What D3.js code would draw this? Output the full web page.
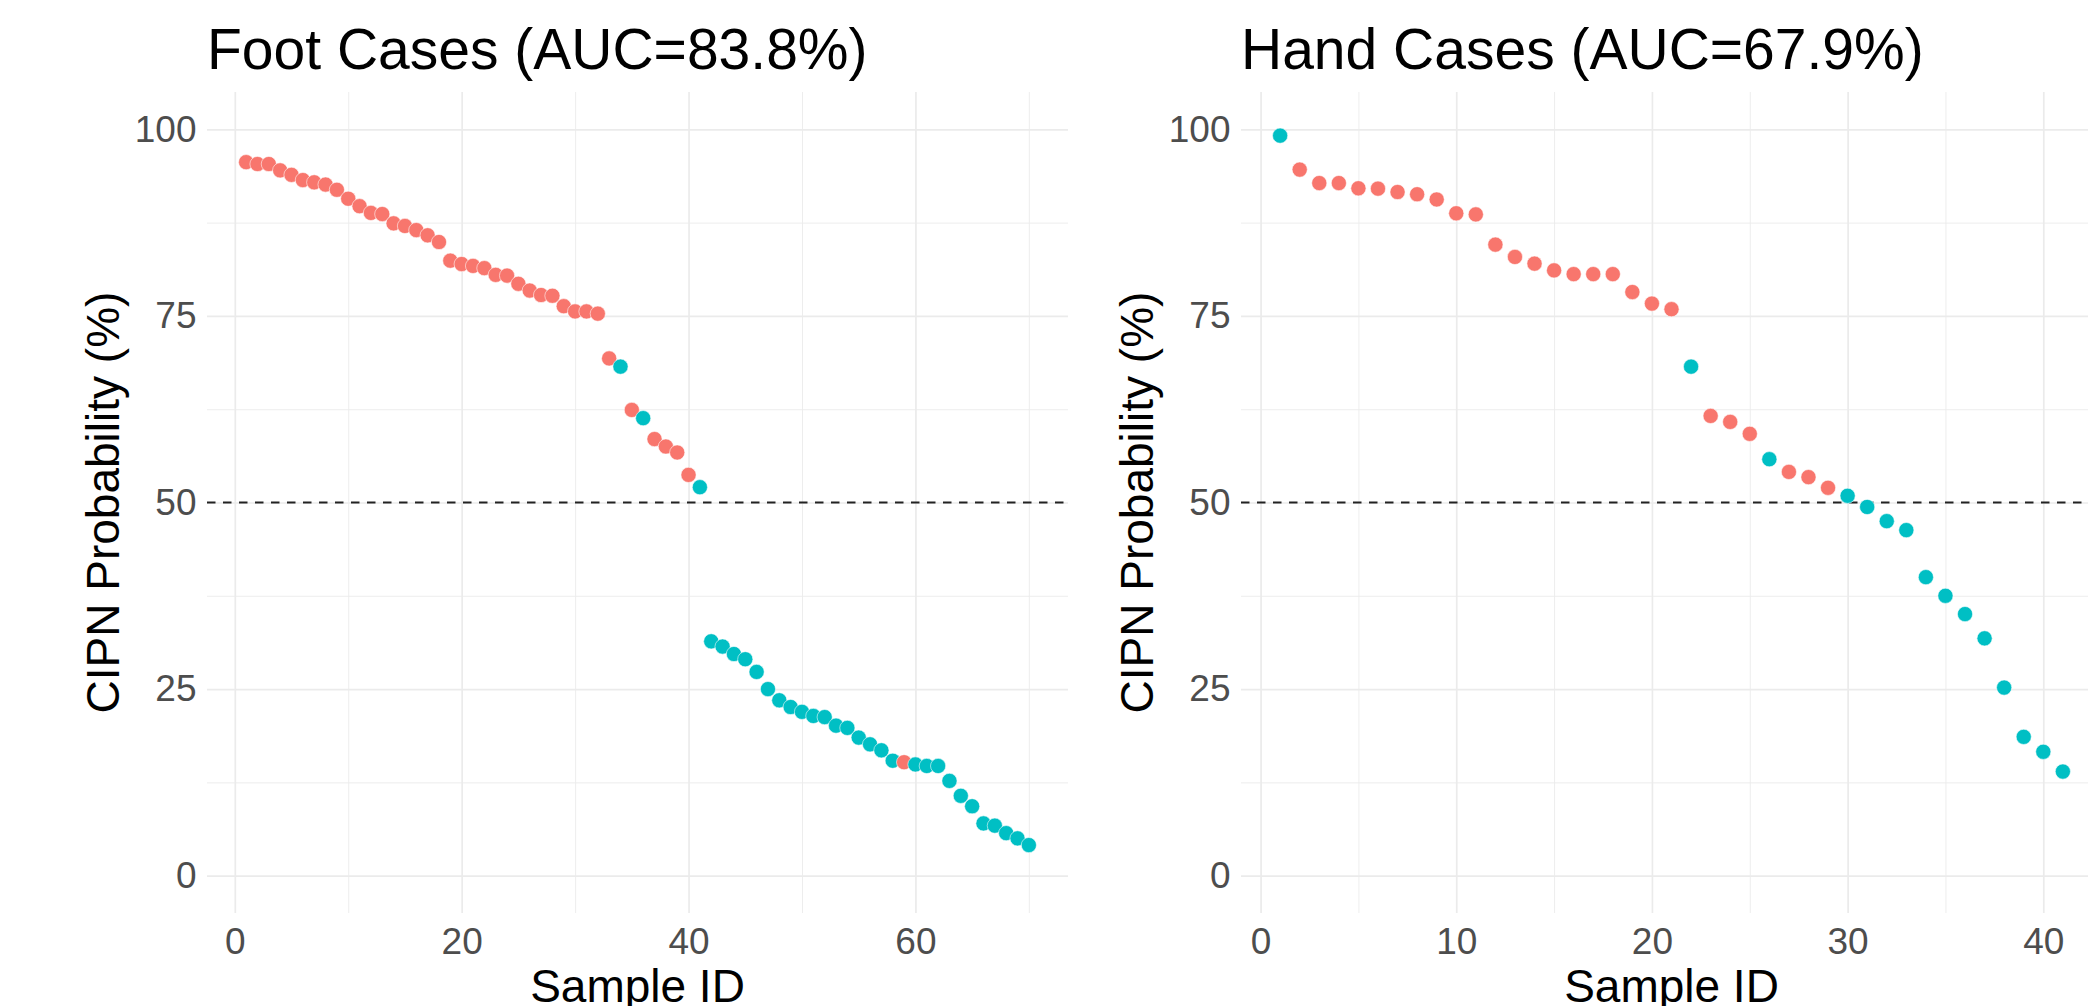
<!DOCTYPE html>
<html>
<head>
<meta charset="utf-8">
<title>CIPN probability by sample</title>
<script src="https://cdn.jsdelivr.net/npm/d3@7"></script>
<style>
  html, body { margin: 0; padding: 0; background: #fff; }
  svg { display: block; font-family: "Liberation Sans", Arial, Helvetica, sans-serif; }
</style>
</head>
<body>
<div id="chart"></div>
<script>
// ---- data ----------------------------------------------------------------
// predicted probability per sample, sorted; class decides the colour
const footProb = [
  95.6, 95.35, 95.35, 94.5, 93.9, 93.2, 92.9, 92.6, 91.9, 90.7,
  89.7, 88.8, 88.65, 87.4, 87.05, 86.5, 85.8, 84.9, 82.4, 81.95,
  81.7, 81.4, 80.5, 80.4, 79.3, 78.4, 77.8, 77.7, 76.3, 75.6,
  75.6, 75.3, 69.3, 68.2, 62.4, 61.3, 58.5, 57.5, 56.7, 53.7,
  52.05, 31.4, 30.7, 29.7, 29.0, 27.3, 25.0, 23.5, 22.6, 21.95,
  21.4, 21.25, 20.1, 19.8, 18.5, 17.6, 16.8, 15.4, 15.2, 14.9,
  14.7, 14.7, 12.7, 10.7, 9.3, 7.0, 6.7, 5.7, 5.0, 4.1
];
const footClass = [
  'pos', 'pos', 'pos', 'pos', 'pos', 'pos', 'pos', 'pos', 'pos', 'pos',
  'pos', 'pos', 'pos', 'pos', 'pos', 'pos', 'pos', 'pos', 'pos', 'pos',
  'pos', 'pos', 'pos', 'pos', 'pos', 'pos', 'pos', 'pos', 'pos', 'pos',
  'pos', 'pos', 'pos', 'neg', 'pos', 'neg', 'pos', 'pos', 'pos', 'pos',
  'neg', 'neg', 'neg', 'neg', 'neg', 'neg', 'neg', 'neg', 'neg', 'neg',
  'neg', 'neg', 'neg', 'neg', 'neg', 'neg', 'neg', 'neg', 'pos', 'neg',
  'neg', 'neg', 'neg', 'neg', 'neg', 'neg', 'neg', 'neg', 'neg', 'neg'
];
const handProb = [
  99.15, 94.6, 92.8, 92.8, 92.1, 92.05, 91.6, 91.3, 90.6, 88.75,
  88.6, 84.55, 82.9, 82.0, 81.1, 80.6, 80.6, 80.6, 78.2, 76.65,
  75.9, 68.2, 61.6, 60.8, 59.2, 55.8, 54.1, 53.4, 51.97, 50.9,
  49.4, 47.5, 46.3, 40.0, 37.5, 35.05, 31.8, 25.2, 18.6, 16.6,
  13.95
];
const handClass = [
  'neg', 'pos', 'pos', 'pos', 'pos', 'pos', 'pos', 'pos', 'pos', 'pos',
  'pos', 'pos', 'pos', 'pos', 'pos', 'pos', 'pos', 'pos', 'pos', 'pos',
  'pos', 'neg', 'pos', 'pos', 'pos', 'neg', 'pos', 'pos', 'pos', 'neg',
  'neg', 'neg', 'neg', 'neg', 'neg', 'neg', 'neg', 'neg', 'neg', 'neg',
  'neg'
];

const footTitle = 'Foot Cases (AUC=83.8%)';
const handTitle = 'Hand Cases (AUC=67.9%)';

const yTicks = [0, 25, 50, 75, 100];
const yMinor = [12.5, 37.5, 62.5, 87.5];
const footXTicks = [0, 20, 40, 60];
const footXMinor = [10, 30, 50, 70];
const handXTicks = [0, 10, 20, 30, 40];
const handXMinor = [5, 15, 25, 35];
const threshold = 50;

(function () {
  'use strict';

  const W = 2088, H = 1006;
  const colors = { pos: '#F8766D', neg: '#00BFC4' };
  const gridColor = '#EBEBEB';
  const tickColor = '#4D4D4D';

  const svg = d3.select('#chart')
    .append('svg')
    .attr('width', W)
    .attr('height', H)
    .attr('viewBox', `0 0 ${W} ${H}`);

  /**
   * One ggplot-like panel (theme_minimal). x domain gets the usual 5% pad.
   */
  function drawPanel({ left, title, prob, cls, xTicks, xMinor }) {
    const top = 92, pw = 861, ph = 821;
    const n = prob.length;
    const pad = (n - 1) * 0.05;

    const x = d3.scaleLinear().domain([1 - pad, n + pad]).range([0, pw]);
    const y = d3.scaleLinear().domain([-5, 105]).range([ph, 0]);

    const g = svg.append('g').attr('transform', `translate(${left},${top})`);

    // grid: minor first, then major
    g.append('g')
      .call(d3.axisLeft(y).tickValues(yMinor).tickSize(-pw).tickFormat(''))
      .call(sel => {
        sel.select('.domain').remove();
        sel.selectAll('line').attr('stroke', gridColor).attr('stroke-width', 0.9);
      });
    g.append('g')
      .attr('transform', `translate(0,${ph})`)
      .call(d3.axisBottom(x).tickValues(xMinor).tickSize(ph).tickFormat(''))
      .call(sel => {
        sel.select('.domain').remove();
        sel.selectAll('line').attr('stroke', gridColor).attr('stroke-width', 0.9)
          .attr('transform', `translate(0,${-ph})`);
      });

    // major grid + tick labels (no tick marks)
    g.append('g')
      .call(d3.axisLeft(y).tickValues(yTicks).tickSize(-pw).tickPadding(10.5))
      .call(sel => {
        sel.select('.domain').remove();
        sel.selectAll('line').attr('stroke', gridColor).attr('stroke-width', 1.7);
        sel.selectAll('text')
          .attr('x', -10.5)
          .attr('fill', tickColor)
          .style('font-size', '37px')
          .style('font-family', '"Liberation Sans", Arial, sans-serif');
      });
    g.append('g')
      .attr('transform', `translate(0,${ph})`)
      .call(d3.axisBottom(x).tickValues(xTicks).tickSize(ph))
      .call(sel => {
        sel.select('.domain').remove();
        sel.selectAll('line').attr('stroke', gridColor).attr('stroke-width', 1.7)
          .attr('transform', `translate(0,${-ph})`);
        sel.selectAll('text')
          .attr('y', 0)
          .attr('dy', 0)
          .attr('transform', `translate(0,${954 - top - ph})`)
          .attr('fill', tickColor)
          .style('font-size', '37px')
          .style('font-family', '"Liberation Sans", Arial, sans-serif');
      });

    // decision threshold
    g.append('line')
      .attr('x1', 0).attr('x2', pw)
      .attr('y1', y(threshold)).attr('y2', y(threshold))
      .attr('stroke', '#222')
      .attr('stroke-width', 2)
      .attr('stroke-dasharray', '8.5,7.5');

    // points, in data order so later ones sit on top
    g.append('g')
      .selectAll('circle')
      .data(prob.map((p, i) => ({ id: i + 1, p, c: cls[i] })))
      .join('circle')
      .attr('cx', d => x(d.id))
      .attr('cy', d => y(d.p))
      .attr('r', 7.6)
      .attr('fill', d => colors[d.c])
      .attr('stroke', '#fff')
      .attr('stroke-opacity', 0.7)
      .attr('stroke-width', 0.8);

    // titles
    g.append('text')
      .attr('x', 0)
      .attr('y', 69.3 - top)
      .attr('fill', '#000')
      .style('font-size', '57px')
      .text(title);

    g.append('text')
      .attr('x', pw / 2)
      .attr('y', 1001.5 - top)
      .attr('text-anchor', 'middle')
      .attr('fill', '#000')
      .style('font-size', '46px')
      .text('Sample ID');

    g.append('text')
      .attr('transform', 'rotate(-90)')
      .attr('x', -ph / 2)
      .attr('y', -88)
      .attr('text-anchor', 'middle')
      .attr('fill', '#000')
      .style('font-size', '46px')
      .text('CIPN Probability (%)');
  }

  drawPanel({ left: 207, title: footTitle, prob: footProb, cls: footClass, xTicks: footXTicks, xMinor: footXMinor });
  drawPanel({ left: 1241, title: handTitle, prob: handProb, cls: handClass, xTicks: handXTicks, xMinor: handXMinor });
})();
</script>
</body>
</html>
